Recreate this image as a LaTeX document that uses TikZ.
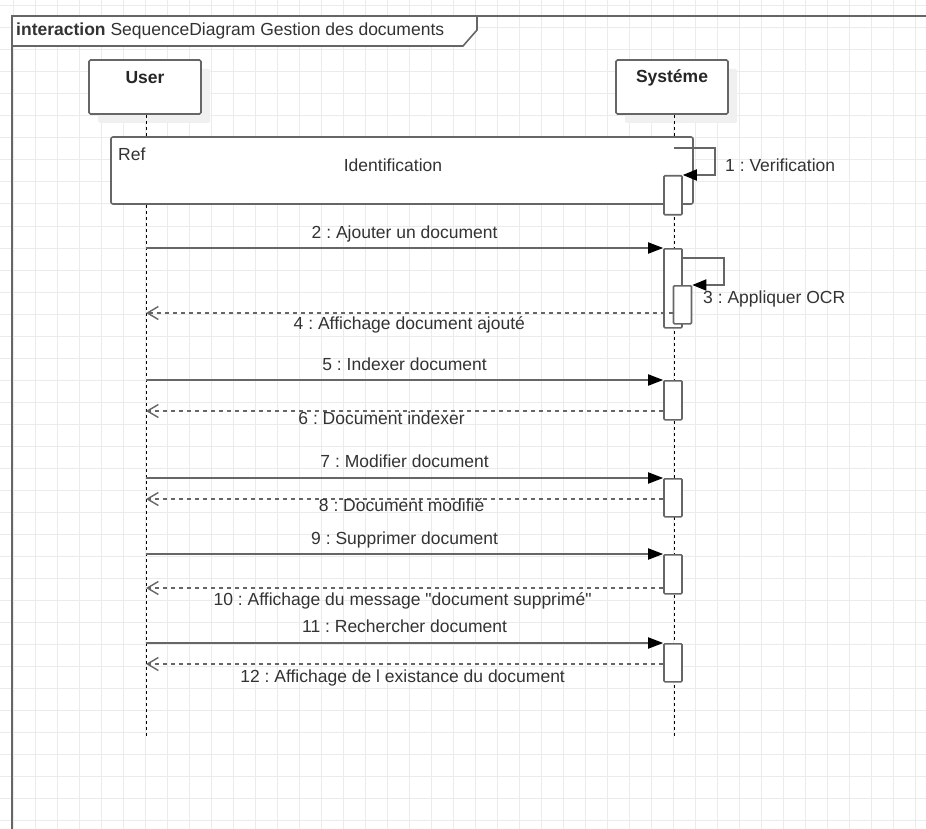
\documentclass[tikz,border=0pt]{standalone}
\usepackage{fontspec}
\setmainfont{Liberation Sans}
\usetikzlibrary{arrows.meta,shadows,calc}
\definecolor{gridc}{HTML}{EBEBEB}
\definecolor{linec}{HTML}{666666}
\definecolor{txtc}{HTML}{333333}
\definecolor{shadc}{HTML}{F0F0F0}
\frenchspacing
\begin{document}
\begin{tikzpicture}[x=1pt,y=-1pt,
  every node/.style={font=\fontsize{17.5}{20}\selectfont, text=txtc},
  head/.style={draw=linec, line width=1.6pt, fill=white, rounded corners=1.5pt,
    minimum width=112pt, minimum height=54pt, inner sep=0pt,
    general shadow={fill=shadc, shadow xshift=9pt, shadow yshift=-9pt}},
  headtxt/.style={font=\bfseries\fontsize{17.5}{20}\selectfont, text=black!85},
  life/.style={black, line width=1pt, dash pattern=on 3pt off 3pt},
  actbox/.style={draw=linec, line width=1.6pt, fill=white, rounded corners=1pt,
    minimum width=18pt, inner sep=0pt, anchor=north},
  msg/.style={draw=linec, line width=1.8pt, -{Triangle[length=15pt,width=11pt,fill=black,color=black]}},
  ret/.style={draw=linec, line width=1.6pt, dash pattern=on 4pt off 4pt,
    -{Straight Barb[length=11pt,width=13pt,line width=1.4pt]}},
  lbl/.style={text height=12.5pt, text depth=3.5pt, inner sep=0pt}
]
\useasboundingbox (0,0) rectangle (926,829);
\clip (0,0) rectangle (926,829);
\fill[white] (0,0) rectangle (926,829);
% grid
\foreach \gx in {13,35,...,926} \draw[gridc, line width=1pt] (\gx,0) -- (\gx,829);
\foreach \gy in {6,28,...,829} \draw[gridc, line width=1pt] (0,\gy) -- (926,\gy);
% frame
\draw[linec, line width=1.6pt] (940,16) -- (12,16) -- (12,845);
\draw[linec, line width=1.6pt, fill=white] (12,16) -- (477,16) -- (477,30) -- (463,46) -- (12,46) -- cycle;
\node[anchor=west, inner sep=0pt, text height=12.5pt, text depth=3.5pt] (title) at (16,31)
  {\textbf{interaction} SequenceDiagram Gestion des documents};
% heads
\node[head] (userbox) at (145,87) {};
\node[headtxt] (usertxt) at (145,78) {User};
\node[head] (sysbox) at (672,87) {};
\node[headtxt] (systxt) at (672,78) {Systéme};
% lifeline ends
\coordinate (uend) at (146,737);
\coordinate (send) at (674,737);
\draw[life] (userbox.south -| uend) -- (uend);
\draw[life] (sysbox.south -| send) -- (send);
% ref box
\node[draw=linec, line width=1.6pt, fill=white, rounded corners=2pt, minimum width=582pt,
  minimum height=67pt, inner sep=0pt] (ref) at (402,170.5) {};
\node[anchor=west, inner sep=0pt] (reftxt) at (118,154) {Ref};
\node (ident) at (393,165) {Identification};
% activations
\node[actbox, minimum height=39pt] (act1) at (673,175) {};
\node[actbox, minimum height=79pt] (act2) at (673,248) {};
\node[actbox, minimum height=38pt] (act3) at (682.5,285) {};
\node[actbox, minimum height=39pt] (act5) at (673,380) {};
\node[actbox, minimum height=38pt] (act7) at (673,478) {};
\node[actbox, minimum height=39pt] (act9) at (673,554) {};
\node[actbox, minimum height=38pt] (act11) at (673,643) {};
% user lifeline points
\coordinate (s1) at (674,148);
\coordinate (u2) at (146,248);
\coordinate (u4) at (146,313);
\coordinate (u5) at (146,380);
\coordinate (u6) at (146,411);
\coordinate (u7) at (146,478);
\coordinate (u8) at (146,499);
\coordinate (u9) at (146,554);
\coordinate (u10) at (146,588);
\coordinate (u11) at (146,643);
\coordinate (u12) at (146,664);
% 1 self
\draw[msg, -{Triangle[length=14pt,width=11pt,fill=black,color=black]}] (s1) -- ++(41,0) |- (act1.north east);
\node[anchor=west, lbl] (l1) at (725,167) {1 : Verification};
% 2
\draw[msg] (u2) -- (act2.north west) node[lbl, midway, yshift=14pt] (l2) {2 : Ajouter un document};
% 3 self
\coordinate (s3) at ($(act2.north east)+(0,10)$);
\draw[msg, -{Triangle[length=14pt,width=11pt,fill=black,color=black]}] (s3) -- ++(41,0) |- (act3.north east);
\node[anchor=west, lbl] (l3) at (703,299) {3 : Appliquer OCR};
% 4
\draw[ret] (act3.west |- u4) -- (u4) node[lbl, midway, yshift=-12pt] (l4) {4 : Affichage document ajouté};
% 5
\draw[msg] (u5) -- (act5.north west) node[lbl, midway, yshift=14pt] (l5) {5 : Indexer document};
\draw[ret] (act5.west |- u6) -- (u6) node[lbl, midway, yshift=-9pt, xshift=-23pt] (l6) {6 : Document indexer};
% 7
\draw[msg] (u7) -- (act7.north west) node[lbl, midway, yshift=15pt] (l7) {7 : Modifier document};
\draw[ret] (act7.west |- u8) -- (u8) node[lbl, midway, yshift=-8pt, xshift=-3pt] (l8) {8 : Document modifié};
% 9
\draw[msg] (u9) -- (act9.north west) node[lbl, midway, yshift=14pt] (l9) {9 : Supprimer document};
\draw[ret] (act9.west |- u10) -- (u10) node[lbl, midway, yshift=-13pt, xshift=-2pt] (l10) {10 : Affichage du message \textquotedbl document supprimé\textquotedbl};
% 11
\draw[msg] (u11) -- (act11.north west) node[lbl, midway, yshift=15pt] (l11) {11 : Rechercher document};
\draw[ret] (act11.west |- u12) -- (u12) node[lbl, midway, yshift=-14pt, xshift=-2pt] (l12) {12 : Affichage de l existance du document};
\end{tikzpicture}
\end{document}
